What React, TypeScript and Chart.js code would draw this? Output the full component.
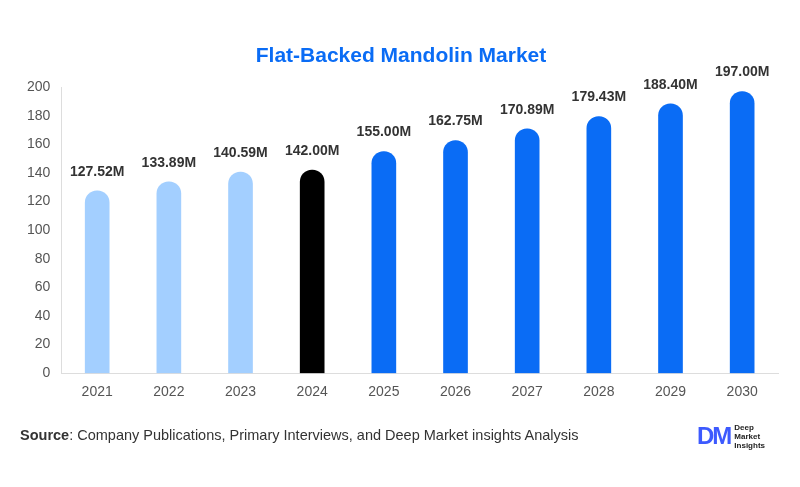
import React, { useEffect, useRef } from "react";
import { Chart, registerables } from "chart.js";
Chart.register(...registerables);

const years = ["2021","2022","2023","2024","2025","2026","2027","2028","2029","2030"];
const values = [127.52,133.89,140.59,142.0,155.0,162.75,170.89,179.43,188.4,197.0];
const colors = ["#a3cfff","#a3cfff","#a3cfff","#000000","#0a6cf5","#0a6cf5","#0a6cf5","#0a6cf5","#0a6cf5","#0a6cf5"];

const labelPlugin = {
  id: "vals",
  afterDatasetsDraw(chart: any) {
    const ctx = chart.ctx;
    const meta = chart.getDatasetMeta(0);
    ctx.save();
    ctx.font = "bold 14px Arial, 'Liberation Sans'";
    ctx.fillStyle = "#333";
    ctx.textAlign = "center";
    ctx.textBaseline = "bottom";
    meta.data.forEach((b: any, i: number) => {
      ctx.fillText(values[i].toFixed(2) + "M", b.x, b.y - 12);
    });
    ctx.restore();
  },
};

export default function App() {
  const ref = useRef<HTMLCanvasElement>(null);
  useEffect(() => {
    document.body.style.margin = "0";
    const c = new Chart(ref.current!, {
      type: "bar",
      data: { labels: years, datasets: [{ data: values, backgroundColor: colors, barThickness: 24, borderRadius: { topLeft: 12, topRight: 12 }, borderSkipped: false }] },
      options: {
        animation: false, responsive: false,
        layout: { padding: { left: 24, right: 22, top: 10, bottom: 83 } },
        plugins: {
          legend: { display: false }, tooltip: { enabled: false },
          title: { display: true, text: "Flat-Backed Mandolin Market", color: "#0a6cf5", font: { size: 21, weight: "bold", family: "Arial, 'Liberation Sans'" }, padding: { top: 34, bottom: 18 } },
        },
        scales: {
          x: { grid: { display: false }, border: { color: "#ddd" }, ticks: { color: "#555", font: { size: 14, family: "Arial, 'Liberation Sans'" } } },
          y: { min: 0, max: 200, ticks: { stepSize: 20, color: "#555", font: { size: 14, family: "Arial, 'Liberation Sans'" } }, grid: { display: false }, border: { color: "#ddd" } },
        },
      },
      plugins: [labelPlugin],
    });
    return () => c.destroy();
  }, []);
  return (
    <div style={{ position: "relative", width: 800, height: 487, background: "#fff", fontFamily: "Arial, 'Liberation Sans'" }}>
      <canvas ref={ref} width={800} height={487} />
      <div style={{ position: "absolute", left: 20, top: 427, fontSize: 14.5, color: "#333" }}>
        <b>Source</b>: Company Publications, Primary Interviews, and Deep Market insights Analysis
      </div>
      <div style={{ position: "absolute", left: 697, top: 422, display: "flex", alignItems: "center" }}>
        <span style={{ color: "#3d5afe", fontWeight: 900, fontSize: 24, letterSpacing: -2 }}>DM</span>
        <span style={{ fontSize: 8, lineHeight: "9px", marginLeft: 4, color: "#222", fontWeight: "bold" }}>Deep<br />Market<br />Insights</span>
      </div>
    </div>
  );
}
